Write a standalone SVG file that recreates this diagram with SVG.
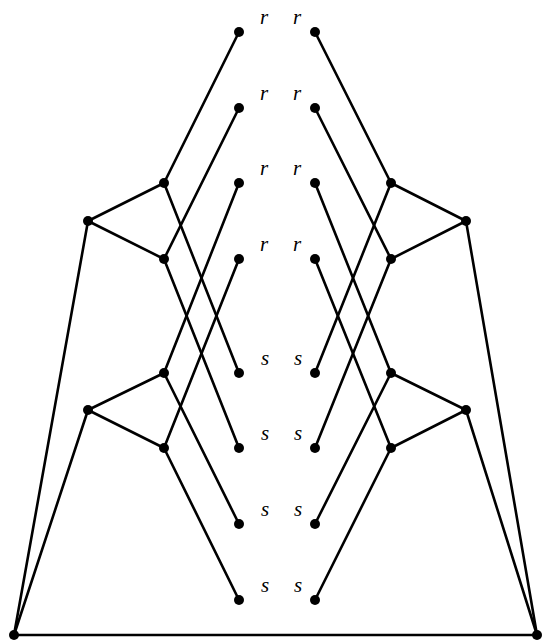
<svg xmlns="http://www.w3.org/2000/svg" width="542" height="640" viewBox="0 0 542 640">
<style>
.e{stroke:#000;stroke-width:2.6;fill:none;stroke-linecap:round}
.n{fill:#000}
.t{font-family:"Liberation Serif",serif;font-style:italic;font-size:21px;text-anchor:middle}
</style>
<rect width="542" height="640" fill="#fff"/>
<g id="edges" class="e">
<line x1="14" y1="635" x2="537" y2="635"/>
<line x1="14" y1="635" x2="88" y2="221"/>
<line x1="14" y1="635" x2="88" y2="410"/>
<line x1="537" y1="635" x2="466" y2="221"/>
<line x1="537" y1="635" x2="466" y2="410"/>
<line x1="88" y1="221" x2="164" y2="183"/>
<line x1="88" y1="221" x2="164" y2="259"/>
<line x1="88" y1="410" x2="164" y2="373"/>
<line x1="88" y1="410" x2="164" y2="448"/>
<line x1="466" y1="221" x2="391" y2="183"/>
<line x1="466" y1="221" x2="391" y2="259"/>
<line x1="466" y1="410" x2="391" y2="373"/>
<line x1="466" y1="410" x2="391" y2="448"/>
<line x1="164" y1="183" x2="239" y2="32"/>
<line x1="164" y1="183" x2="239" y2="373"/>
<line x1="164" y1="259" x2="239" y2="108"/>
<line x1="164" y1="259" x2="239" y2="448"/>
<line x1="164" y1="373" x2="239" y2="183"/>
<line x1="164" y1="373" x2="239" y2="524"/>
<line x1="164" y1="448" x2="239" y2="259"/>
<line x1="164" y1="448" x2="239" y2="600"/>
<line x1="391" y1="183" x2="315" y2="32"/>
<line x1="391" y1="183" x2="315" y2="373"/>
<line x1="391" y1="259" x2="315" y2="108"/>
<line x1="391" y1="259" x2="315" y2="448"/>
<line x1="391" y1="373" x2="315" y2="183"/>
<line x1="391" y1="373" x2="315" y2="524"/>
<line x1="391" y1="448" x2="315" y2="259"/>
<line x1="391" y1="448" x2="315" y2="600"/>
</g>
<g id="corners" class="n"><circle cx="14" cy="635" r="5"/><circle cx="537" cy="635" r="5"/></g>
<g id="l1" class="n"><circle cx="88" cy="221" r="5"/><circle cx="88" cy="410" r="5"/><circle cx="466" cy="221" r="5"/><circle cx="466" cy="410" r="5"/></g>
<g id="l2" class="n"><circle cx="164" cy="183" r="5"/><circle cx="164" cy="259" r="5"/><circle cx="164" cy="373" r="5"/><circle cx="164" cy="448" r="5"/><circle cx="391" cy="183" r="5"/><circle cx="391" cy="259" r="5"/><circle cx="391" cy="373" r="5"/><circle cx="391" cy="448" r="5"/></g>
<g id="leavesL" class="n"><circle cx="239" cy="32" r="5"/><circle cx="239" cy="108" r="5"/><circle cx="239" cy="183" r="5"/><circle cx="239" cy="259" r="5"/><circle cx="239" cy="373" r="5"/><circle cx="239" cy="448" r="5"/><circle cx="239" cy="524" r="5"/><circle cx="239" cy="600" r="5"/></g>
<g id="leavesR" class="n"><circle cx="315" cy="32" r="5"/><circle cx="315" cy="108" r="5"/><circle cx="315" cy="183" r="5"/><circle cx="315" cy="259" r="5"/><circle cx="315" cy="373" r="5"/><circle cx="315" cy="448" r="5"/><circle cx="315" cy="524" r="5"/><circle cx="315" cy="600" r="5"/></g>
<g id="labels" class="t">
<text x="264" y="24">r</text><text x="297" y="24">r</text>
<text x="264" y="100">r</text><text x="297" y="100">r</text>
<text x="264" y="175">r</text><text x="297" y="175">r</text>
<text x="264" y="251">r</text><text x="297" y="251">r</text>
<text x="265" y="365">s</text><text x="298" y="365">s</text>
<text x="265" y="440">s</text><text x="298" y="440">s</text>
<text x="265" y="516">s</text><text x="298" y="516">s</text>
<text x="265" y="592">s</text><text x="298" y="592">s</text>
</g>
</svg>
